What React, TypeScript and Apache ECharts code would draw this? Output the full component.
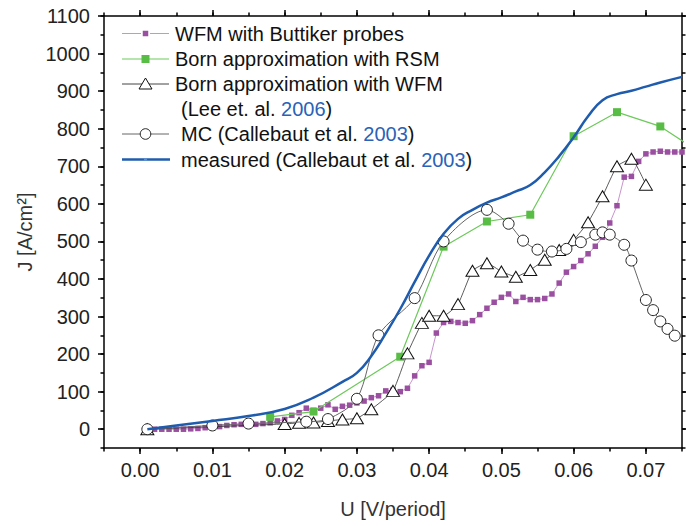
import React, { useEffect, useRef } from 'react';
import * as echarts from 'echarts';

const FONT = "'Liberation Sans', Arial, Helvetica, sans-serif";

// Tick labels
const xTickLabels = [0, 0.01, 0.02, 0.03, 0.04, 0.05, 0.06, 0.07];
const yTickLabels = [0, 100, 200, 300, 400, 500, 600, 700, 800, 900, 1000, 1100];

// WFM with Buttiker probes
const wfmU = [
  0.002, 0.003, 0.004, 0.005, 0.006, 0.007, 0.008, 0.009, 0.01, 0.011, 0.012, 0.013, 0.014, 0.015,
  0.016, 0.017, 0.018, 0.019, 0.02, 0.021, 0.022, 0.023, 0.024, 0.025, 0.026, 0.027, 0.028, 0.029,
  0.03, 0.031, 0.032, 0.033, 0.034, 0.035, 0.036, 0.037, 0.038, 0.039, 0.04, 0.041, 0.042, 0.043,
  0.044, 0.045, 0.046, 0.047, 0.048, 0.049, 0.05, 0.051, 0.052, 0.053, 0.054, 0.055, 0.056, 0.057,
  0.058, 0.059, 0.06, 0.061, 0.062, 0.063, 0.064, 0.065, 0.066, 0.067, 0.068, 0.069, 0.07, 0.071,
  0.072, 0.073, 0.074, 0.075,
];
const wfmJ = [
  0, 0, 0, 0, 0, 1, 2, 4, 5, 7, 10, 12, 13, 14,
  13, 15, 17, 22, 26, 37, 44, 56, 50, 56, 65, 53, 61, 64,
  70, 75, 84, 89, 102, 104, 100, 109, 142, 169, 178, 256, 284, 287,
  284, 282, 289, 305, 322, 338, 351, 360, 340, 351, 345, 345, 348, 360,
  389, 418, 433, 449, 467, 487, 511, 549, 595, 671, 673, 713, 733, 738,
  740, 738, 738, 738,
];

// Born approximation with RSM
const rsmU = [0.018, 0.024, 0.036, 0.042, 0.048, 0.054, 0.06, 0.066, 0.072, 0.078];
const rsmJ = [33, 47, 193, 486, 553, 571, 780, 844, 806, 730];

// Born approximation with WFM (Lee et al. 2006)
const bornWfmU = [
  0.001, 0.02, 0.022, 0.024, 0.026, 0.028, 0.03, 0.032, 0.035, 0.037, 0.039, 0.04, 0.042, 0.044,
  0.046, 0.048, 0.05, 0.052, 0.054, 0.056, 0.058, 0.06, 0.062, 0.064, 0.066, 0.068, 0.07,
];
const bornWfmJ = [
  0, 14, 17, 18, 22, 26, 29, 53, 102, 202, 283, 302, 302, 333,
  422, 442, 420, 406, 424, 451, 477, 504, 551, 620, 700, 720, 651,
];

// MC (Callebaut et al. 2003)
const mcU = [
  0.001, 0.01, 0.015, 0.023, 0.026, 0.03, 0.033, 0.038, 0.042, 0.048, 0.051, 0.053, 0.055, 0.057,
  0.059, 0.061, 0.063, 0.064, 0.065, 0.067, 0.068, 0.07, 0.071, 0.072, 0.073, 0.074,
];
const mcJ = [
  0, 10, 15, 20, 27, 81, 250, 349, 500, 584, 547, 502, 478, 473,
  480, 498, 518, 524, 518, 491, 449, 344, 317, 287, 267, 249,
];

// measured (Callebaut et al. 2003)
const measU = [
  0.001, 0.005, 0.01, 0.015, 0.02, 0.024, 0.028, 0.03, 0.032, 0.034, 0.036, 0.038, 0.04, 0.042,
  0.044, 0.046, 0.048, 0.05, 0.052, 0.054, 0.056, 0.058, 0.06, 0.062, 0.064, 0.066, 0.068, 0.07,
  0.072, 0.075,
];
const measJ = [
  0, 10, 22, 35, 54, 84, 126, 150, 195, 255, 320, 392, 462, 520,
  560, 584, 603, 617, 633, 650, 684, 727, 777, 833, 876, 892, 901, 912,
  923, 938,
];

const zip = (a: number[], b: number[]) => a.map((v, i) => [v, b[i]]);

const PURPLE = '#9b4fa1';
const PURPLE_LINE = '#c993ce';
const GREEN = '#58bd45';
const GREEN_LINE = '#6cc95a';
const BLUE = '#1f5cae';
const YEAR_BLUE = '#2a62b8';

const tickStyle = { color: '#000', width: 1.5 };

function buildOption(): any {
  const xBase = { type: 'value', min: -0.005, max: 0.075, splitLine: { show: false } };
  const yBase = { type: 'value', min: -50, max: 1100, splitLine: { show: false } };
  const legendX1 = 122;
  const legendX2 = 169;
  const legendCx = 145.5;
  const rows = [33.5, 59, 84, 109, 134, 159.5];
  const textStyle = (text: string, x: number, y: number) => ({
    type: 'text',
    x,
    y,
    silent: true,
    style: {
      text,
      fill: '#111',
      fontSize: 20,
      fontFamily: FONT,
      verticalAlign: 'middle',
      align: 'left',
      rich: { b: { fill: YEAR_BLUE, fontSize: 20, fontFamily: FONT } },
    },
  });
  const graphic: any[] = [
    // row 1
    { type: 'line', shape: { x1: legendX1, y1: rows[0], x2: 141, y2: rows[0] }, style: { stroke: PURPLE_LINE, lineWidth: 1 } },
    { type: 'line', shape: { x1: 150, y1: rows[0], x2: legendX2, y2: rows[0] }, style: { stroke: PURPLE_LINE, lineWidth: 1 } },
    { type: 'rect', shape: { x: legendCx - 2.75, y: rows[0] - 2.75, width: 5.5, height: 5.5 }, style: { fill: PURPLE } },
    textStyle('WFM with Buttiker probes', 175, rows[0]),
    // row 2
    { type: 'line', shape: { x1: legendX1, y1: rows[1], x2: legendX2, y2: rows[1] }, style: { stroke: GREEN_LINE, lineWidth: 1.2 } },
    { type: 'rect', shape: { x: legendCx - 4, y: rows[1] - 4, width: 8, height: 8 }, style: { fill: GREEN } },
    textStyle('Born approximation with RSM', 175, rows[1]),
    // row 3
    { type: 'line', shape: { x1: legendX1, y1: rows[2], x2: legendX2, y2: rows[2] }, style: { stroke: '#444', lineWidth: 1 } },
    {
      type: 'polygon',
      shape: { points: [[legendCx, rows[2] - 6], [legendCx + 6.5, rows[2] + 5], [legendCx - 6.5, rows[2] + 5]] },
      style: { fill: '#fff', stroke: '#111', lineWidth: 1 },
    },
    textStyle('Born approximation with WFM', 175, rows[2]),
    // row 4
    textStyle('(Lee et. al. {b|2006})', 181, rows[3]),
    // row 5
    { type: 'line', shape: { x1: legendX1, y1: rows[4], x2: legendX2, y2: rows[4] }, style: { stroke: '#666', lineWidth: 1 } },
    { type: 'circle', shape: { cx: legendCx, cy: rows[4], r: 5.3 }, style: { fill: '#fff', stroke: '#222', lineWidth: 1 } },
    textStyle('MC (Callebaut et al. {b|2003})', 181, rows[4]),
    // row 6
    { type: 'line', shape: { x1: legendX1, y1: rows[5], x2: legendX2 + 1, y2: rows[5] }, style: { stroke: BLUE, lineWidth: 2.5 } },
    { type: 'circle', shape: { cx: legendCx, cy: rows[5], r: 1.6 }, style: { fill: '#5d8fd0' } },
    textStyle('measured (Callebaut et al. {b|2003})', 181, rows[5]),
  ];

  return {
    animation: false,
    backgroundColor: '#fff',
    grid: { left: 104, right: 4, top: 16, bottom: 78, containLabel: false },
    xAxis: [
      {
        ...xBase,
        position: 'bottom',
        axisLine: { show: true, onZero: false, lineStyle: tickStyle },
        axisTick: { show: true, inside: false, length: 6, customValues: xTickLabels, lineStyle: tickStyle },
        axisLabel: {
          show: true,
          customValues: xTickLabels,
          formatter: (v: number) => v.toFixed(2),
          fontSize: 20,
          fontFamily: FONT,
          color: '#222',
          margin: 12,
        },
        name: 'U [V/period]',
        nameLocation: 'middle',
        nameGap: 51,
        nameTextStyle: { fontSize: 20, fontFamily: FONT, color: '#333' },
      },
      {
        ...xBase,
        position: 'bottom',
        interval: 0.005,
        axisLine: { show: false, onZero: false },
        axisTick: { show: true, inside: false, length: 3.5, lineStyle: tickStyle },
        axisLabel: { show: false },
      },
      {
        ...xBase,
        position: 'top',
        axisLine: { show: true, onZero: false, lineStyle: tickStyle },
        axisTick: { show: true, inside: false, length: 6, customValues: xTickLabels, lineStyle: tickStyle },
        axisLabel: { show: false },
      },
      {
        ...xBase,
        position: 'top',
        interval: 0.005,
        axisLine: { show: false, onZero: false },
        axisTick: { show: true, inside: false, length: 3.5, lineStyle: tickStyle },
        axisLabel: { show: false },
      },
    ],
    yAxis: [
      {
        ...yBase,
        position: 'left',
        axisLine: { show: true, onZero: false, lineStyle: tickStyle },
        axisTick: { show: true, inside: false, length: 6, customValues: yTickLabels, lineStyle: tickStyle },
        axisLabel: {
          show: true,
          customValues: yTickLabels,
          formatter: (v: number) => String(Math.round(v)),
          fontSize: 20,
          fontFamily: FONT,
          color: '#222',
          margin: 14,
        },
        name: 'J [A/cm²]',
        nameLocation: 'middle',
        nameGap: 69,
        nameRotate: 90,
        nameTextStyle: { fontSize: 20, fontFamily: FONT, color: '#333' },
      },
      {
        ...yBase,
        position: 'left',
        interval: 50,
        axisLine: { show: false, onZero: false },
        axisTick: { show: true, inside: false, length: 3.5, lineStyle: tickStyle },
        axisLabel: { show: false },
      },
      {
        ...yBase,
        position: 'right',
        axisLine: { show: true, onZero: false, lineStyle: tickStyle },
        axisTick: { show: true, inside: false, length: 6, customValues: yTickLabels, lineStyle: tickStyle },
        axisLabel: { show: false },
      },
      {
        ...yBase,
        position: 'right',
        interval: 50,
        axisLine: { show: false, onZero: false },
        axisTick: { show: true, inside: false, length: 3.5, lineStyle: tickStyle },
        axisLabel: { show: false },
      },
    ],
    graphic,
    series: [
      {
        type: 'line',
        name: 'WFM with Buttiker probes',
        data: zip(wfmU, wfmJ),
        symbol: 'rect',
        symbolSize: 5.5,
        itemStyle: { color: PURPLE },
        lineStyle: { color: PURPLE_LINE, width: 1 },
        z: 2,
      },
      {
        type: 'line',
        name: 'Born approximation with RSM',
        data: zip(rsmU, rsmJ),
        symbol: 'rect',
        symbolSize: 8,
        itemStyle: { color: GREEN },
        lineStyle: { color: GREEN_LINE, width: 1.2 },
        z: 3,
      },
      {
        type: 'line',
        name: 'Born approximation with WFM',
        data: zip(bornWfmU, bornWfmJ),
        symbol: 'triangle',
        symbolSize: [13, 11],
        smooth: 0.15,
        itemStyle: { color: '#fff', borderColor: '#111', borderWidth: 1 },
        lineStyle: { color: '#333', width: 0.8 },
        z: 4,
      },
      {
        type: 'line',
        name: 'MC (Callebaut et al. 2003)',
        data: zip(mcU, mcJ),
        symbol: 'circle',
        symbolSize: 11,
        smooth: 0.3,
        itemStyle: { color: '#fff', borderColor: '#222', borderWidth: 1 },
        lineStyle: { color: '#666', width: 1 },
        z: 5,
      },
      {
        type: 'line',
        name: 'measured (Callebaut et al. 2003)',
        data: zip(measU, measJ),
        showSymbol: false,
        smooth: 0.5,
        lineStyle: { color: BLUE, width: 2.5 },
        itemStyle: { color: BLUE },
        z: 6,
      },
    ],
  };
}

export default function App() {
  const ref = useRef<HTMLDivElement>(null);
  useEffect(() => {
    document.body.style.margin = '0';
    if (!ref.current) return;
    const chart = echarts.init(ref.current, undefined, { renderer: 'svg' });
    chart.setOption(buildOption());
    return () => chart.dispose();
  }, []);
  return <div ref={ref} style={{ width: 686, height: 526, position: 'absolute', left: 0, top: 0 }} />;
}
